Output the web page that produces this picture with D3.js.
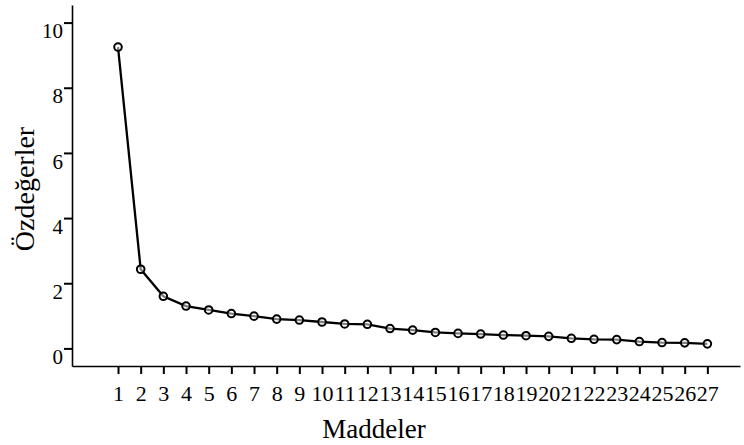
<!DOCTYPE html>
<html>
<head>
<meta charset="utf-8">
<script src="https://cdn.jsdelivr.net/npm/d3@7"></script>
<style>
  body { margin: 0; background: #fff; }
  #chart text { font-family: "Liberation Serif", "DejaVu Serif", serif; fill: #000; }
</style>
</head>
<body>
<div id="chart"></div>
<script>
const items = d3.range(1, 28)
const eigenvalues = [9.25, 2.43, 1.60, 1.30, 1.18, 1.07, 0.99, 0.90, 0.87, 0.81,
    0.75, 0.74, 0.61, 0.56, 0.49, 0.46, 0.44, 0.41, 0.39, 0.37,
    0.31, 0.28, 0.27, 0.21, 0.18, 0.17, 0.14]
const yTicks = [0, 2, 4, 6, 8, 10]
const xTitle = "Maddeler"
const yTitle = "Özdeğerler"

const data = items.map((d, i) => ({ item: d, value: eigenvalues[i] }))

const W = 744, H = 445
const margin = {top: 5, right: 4, bottom: 79, left: 72}
const width = W - margin.left - margin.right,
    height = H - margin.top - margin.bottom

const svg = d3.select("#chart")
  .append("svg")
    .attr("width", W)
    .attr("height", H)
  .append("g")
    .attr("transform", `translate(${margin.left},${margin.top})`)

// axis runs a bit past the first and last item
const x = d3.scaleLinear()
    .domain([-1.03, 28.44])
    .range([0, width])

const y = d3.scaleLinear()
    .domain([-0.54, 10.54])
    .range([height, 0])

const xAxis = svg.append("g")
    .attr("transform", `translate(0, ${height})`)
    .call(d3.axisBottom(x).tickValues(items).tickFormat(d3.format("d")).tickSize(8).tickSizeOuter(0).tickPadding(11))
xAxis.select(".domain").attr("stroke-width", 1.6)
xAxis.selectAll(".tick line").attr("stroke-width", 2)
xAxis.selectAll("text").style("font-size", "22px")

const yAxis = svg.append("g")
    .call(d3.axisLeft(y).tickValues(yTicks).tickSize(8).tickSizeOuter(0))
yAxis.select(".domain").attr("stroke-width", 1.6)
yAxis.selectAll(".tick line").attr("stroke-width", 2)
yAxis.selectAll("text")
    .attr("x", -9)
    .attr("dy", "0.72em")
    .style("font-size", "21px")

const line = d3.line()
    .x(d => x(d.item))
    .y(d => y(d.value))

svg.append("path")
    .datum(data)
    .attr("fill", "none")
    .attr("stroke", "#000")
    .attr("stroke-width", 2.3)
    .attr("d", line)

svg.append("g")
  .selectAll("circle")
  .data(data)
  .join("circle")
    .attr("cx", d => x(d.item))
    .attr("cy", d => y(d.value))
    .attr("r", 3.8)
    .attr("fill", "#fff")
    .attr("fill-opacity", 0.5)
    .attr("stroke", "#000")
    .attr("stroke-width", 2)

svg.append("text")
    .attr("x", 374 - margin.left)
    .attr("y", 438 - margin.top)
    .attr("text-anchor", "middle")
    .style("font-size", "27px")
    .text(xTitle)

svg.append("text")
    .attr("transform", `translate(${34 - margin.left}, ${189 - margin.top}) rotate(-90)`)
    .attr("text-anchor", "middle")
    .style("font-size", "28px")
    .text(yTitle)
</script>
</body>
</html>
